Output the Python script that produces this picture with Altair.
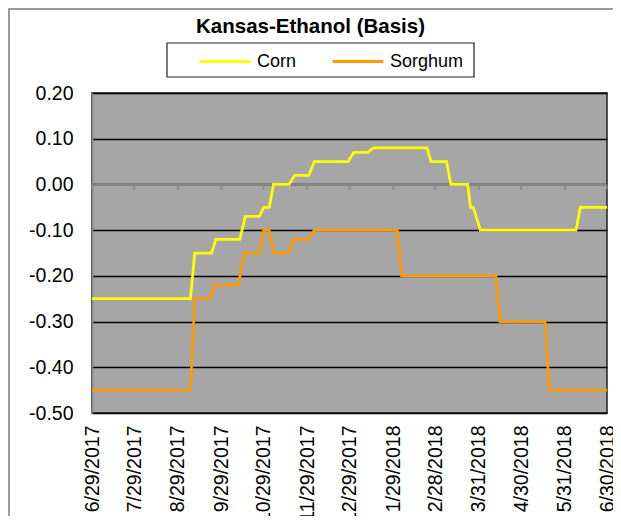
import altair as alt
import pandas as pd

TITLE = "Kansas-Ethanol (Basis)"
series_names = ["Corn", "Sorghum"]
series_colors = ["#FFFF00", "#FF9900"]

corn_dates = ["2017-06-29", "2017-09-07", "2017-09-10", "2017-09-22", "2017-09-25",
              "2017-10-12", "2017-10-16", "2017-10-26", "2017-10-29", "2017-11-02",
              "2017-11-05", "2017-11-16", "2017-11-20", "2017-11-30", "2017-12-04",
              "2017-12-28", "2018-01-01", "2018-01-11", "2018-01-15", "2018-02-22",
              "2018-02-25", "2018-03-08", "2018-03-11", "2018-03-23", "2018-03-25",
              "2018-03-27", "2018-04-01", "2018-06-08", "2018-06-11", "2018-06-30"]
corn_values = [-0.25, -0.25, -0.15, -0.15, -0.12,
               -0.12, -0.07, -0.07, -0.05, -0.05,
               0.00, 0.00, 0.02, 0.02, 0.05,
               0.05, 0.07, 0.07, 0.08, 0.08,
               0.05, 0.05, 0.00, 0.00, -0.05,
               -0.05, -0.10, -0.10, -0.05, -0.05]

sorghum_dates = ["2017-06-29", "2017-09-07", "2017-09-10", "2017-09-21", "2017-09-24",
                 "2017-10-11", "2017-10-15", "2017-10-26", "2017-10-29", "2017-11-02",
                 "2017-11-05", "2017-11-16", "2017-11-19", "2017-11-30", "2017-12-04",
                 "2018-02-01", "2018-02-04", "2018-04-12", "2018-04-15", "2018-05-17",
                 "2018-05-20", "2018-06-30"]
sorghum_values = [-0.45, -0.45, -0.25, -0.25, -0.22,
                  -0.22, -0.15, -0.15, -0.10, -0.10,
                  -0.15, -0.15, -0.12, -0.12, -0.10,
                  -0.10, -0.20, -0.20, -0.30, -0.30,
                  -0.45, -0.45]

tick_dates = ["2017-06-29", "2017-07-29", "2017-08-29", "2017-09-29", "2017-10-29",
              "2017-11-29", "2017-12-29", "2018-01-29", "2018-02-28", "2018-03-31",
              "2018-04-30", "2018-05-31", "2018-06-30"]
y_ticks = [0.20, 0.10, 0.00, -0.10, -0.20, -0.30, -0.40, -0.50]

df = pd.concat([
    pd.DataFrame({"date": corn_dates, "value": corn_values, "series": "Corn"}),
    pd.DataFrame({"date": sorghum_dates, "value": sorghum_values, "series": "Sorghum"}),
], ignore_index=True)
ticks_df = pd.DataFrame({"date": tick_dates})


def dt(s):
    y, m, d = map(int, s.split("-"))
    return alt.DateTime(year=y, month=m, date=d, utc=True)


FONT = "Liberation Sans"
PLOT_W = 515
PLOT_H = 320

x_scale = alt.Scale(type="utc", domain=[dt(tick_dates[0]), dt(tick_dates[-1])], nice=False)
y_scale = alt.Scale(domain=[min(y_ticks), max(y_ticks)], nice=False, zero=False)

x_axis = alt.Axis(
    values=[dt(s) for s in tick_dates],
    labelExpr="utcFormat(datum.value, '%-m/%-d/%Y')",
    labelAngle=270, labelFontSize=19.5, labelFont=FONT, labelColor="black",
    labelPadding=12, labelFlush=False, labelOverlap=False,
    ticks=False, tickSize=0, domain=False, grid=False, title=None,
)
y_axis = alt.Axis(
    values=y_ticks,
    labelExpr="replace(format(datum.value, '.2f'), '\u2212', '-')",
    labelFontSize=19.5, labelFont=FONT, labelColor="black", labelPadding=19,
    ticks=False, tickSize=0, domain=True, domainColor="#868686", domainWidth=1.5,
    grid=True, gridColor="#000000", gridWidth=1.5, title=None,
)

one = pd.DataFrame({"k": [0]})

border = alt.Chart(one).mark_rect(filled=False, stroke="#9a9a9a", strokeWidth=2).encode(
    x=alt.value(-83), x2=alt.value(1000), y=alt.value(-84), y2=alt.value(1000)
)

title_text = alt.Chart(pd.DataFrame({"label": [TITLE]})).mark_text(
    font=FONT, fontSize=20.5, fontWeight="bold", align="center", baseline="alphabetic", color="black"
).encode(text="label:N", x=alt.value(218.5), y=alt.value(-60))

legend_box = alt.Chart(one).mark_rect(fill="white", stroke="#222222", strokeWidth=1.2).encode(
    x=alt.value(75), x2=alt.value(382), y=alt.value(-50), y2=alt.value(-16)
)

zero_rule = alt.Chart(one).mark_rule(color="#868686", strokeWidth=1.5).encode(
    y=alt.datum(0, type="quantitative", scale=y_scale)
)

zero_ticks = alt.Chart(ticks_df).mark_rule(color="#868686", strokeWidth=1.5, y2Offset=5).encode(
    x=alt.X("date:T", scale=x_scale, axis=x_axis),
    y=alt.datum(0, type="quantitative", scale=y_scale),
    y2=alt.datum(0),
)

lines = alt.Chart(df).mark_line(strokeWidth=2.75).encode(
    x=alt.X("date:T", scale=x_scale, axis=x_axis),
    y=alt.Y("value:Q", scale=y_scale, axis=y_axis),
    color=alt.Color(
        "series:N",
        scale=alt.Scale(domain=series_names, range=series_colors),
        sort=series_names,
        legend=alt.Legend(
            orient="none", legendX=106, legendY=-58.5, direction="horizontal", title=None,
            symbolType="stroke", symbolSize=2601, symbolStrokeWidth=3,
            labelFontSize=18, labelFont=FONT, labelColor="black", labelOffset=5,
            columnPadding=29, padding=0,
        ),
    ),
    order=alt.Order("date:T"),
)

chart = alt.layer(border, title_text, legend_box, zero_rule, zero_ticks, lines).properties(
    width=PLOT_W, height=PLOT_H,
    autosize=alt.AutoSizeParams(type="none"),
    padding={"left": 84, "top": 85, "right": 6, "bottom": 103},
).configure_view(fill="#A6A6A6", stroke="#222222", strokeWidth=1.5)

chart.save("out.html", embed_options={"renderer": "svg", "actions": False})
